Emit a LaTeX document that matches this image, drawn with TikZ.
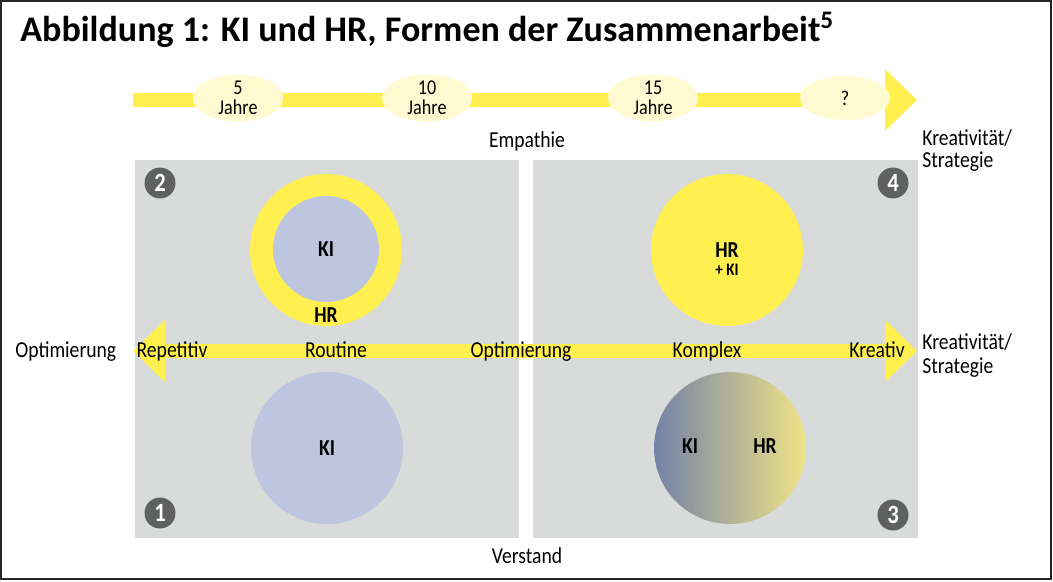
\documentclass[tikz,border=0pt]{standalone}
\usepackage{fontspec}
\setmainfont[FakeStretch=0.86]{Carlito}
\newfontfamily\titlefont{Carlito}
\usetikzlibrary{positioning, arrows.meta, shapes.geometric}

\definecolor{hryellow}{HTML}{FFF050}
\definecolor{kiblue}{HTML}{BEC5DE}
\definecolor{fieldgray}{HTML}{D9DADA}
\definecolor{yearbg}{HTML}{FFFAD2}
\definecolor{badgegray}{HTML}{5F6060}
\definecolor{mixblue}{HTML}{7482A8}
\definecolor{mixyellow}{HTML}{F0E486}

\begin{document}
\begin{tikzpicture}[
    x=0.02cm, y=-0.02cm,
    every node/.style = {font=\fontsize{13}{13}\selectfont, inner sep=0pt},
    year/.style = {ellipse, fill=yearbg, minimum width=1.8cm, minimum height=0.88cm, align=center, font=\fontsize{12}{11.2}\selectfont},
    badge/.style = {circle, fill=badgegray, text=white, minimum size=0.62cm, font=\fontsize{15}{15}\selectfont\bfseries},
    bubble/.style = {circle, minimum size=3.04cm, font=\fontsize{13}{13}\selectfont\bfseries},
    tag/.style = {anchor=base, font=\fontsize{13}{13}\selectfont\bfseries},
    axis/.style = {anchor=base},
    bigarrow/.style = {draw=hryellow, line width=0.28cm, -{Triangle[length=0.64cm, width=1.2cm]}},
    twoarrow/.style = {bigarrow, {Triangle[length=0.64cm, width=1.2cm]}-{Triangle[length=0.64cm, width=1.2cm]}}
]
    \useasboundingbox (0,0) rectangle (1053,581);
    \draw[line width=0.04cm, black!85] (1,1) rectangle (1051,579);

    \node (title) at (20,42) [anchor=base west, font=\fontsize{20.5}{21}\selectfont\titlefont\bfseries]
        {Abbildung 1: KI und HR, Formen der Zusammenarbeit\textsuperscript{5}};

    % time line
    \coordinate (tstart) at (133,100);
    \coordinate (tend) at (917,100);
    \draw[bigarrow] (tstart) -- (tend);
    \node (y5) at (238,98) [year] {5\\Jahre};
    \node (y10) at (427,98) [year] {10\\Jahre};
    \node (y15) at (653,98) [year] {15\\Jahre};
    \node (yq) at (845,98) [year] {?};
    \node (krea1) at (922,167) [anchor=base west, align=left, font=\fontsize{13}{12.5}\selectfont] {Kreativität/\\Strategie};

    % fields
    \fill[fieldgray] (135,160) rectangle (519,538);
    \fill[fieldgray] (533,160) rectangle (918,538);
    \node (empathie) at (527,147) [axis] {Empathie};
    \node (verstand) at (527,563) [axis] {Verstand};

    % middle axis
    \coordinate (mleft) at (133,351);
    \coordinate (mright) at (917,351);
    \draw[twoarrow] (mleft) -- (mright);
    \node (opt) at (15,357) [anchor=base west] {Optimierung};
    \node (rep) at (172,357) [axis] {Repetitiv};
    \node (rout) at (336,357) [axis] {Routine};
    \node (optmid) at (521,357) [axis] {Optimierung};
    \node (kompl) at (707,357) [axis] {Komplex};
    \node (kreativ) at (877,357) [axis] {Kreativ};
    \node (krea2) at (922,373) [anchor=base west, align=left, font=\fontsize{13}{13.5}\selectfont] {Kreativität/\\Strategie};

    % quadrant 2
    \node (ring) at (326,250) [bubble, fill=hryellow] {};
    \node (kiin) at (326,249) [bubble, fill=kiblue, minimum size=2.12cm] {KI};
    \node (hrring) at (326,322) [tag] {HR};

    % quadrant 4
    \node (hrki) at (727,250) [bubble, fill=hryellow] {};
    \node (hr4) at (727,257) [tag] {HR};
    \node (plus4) at (727,275) [tag, font=\fontsize{10}{10}\selectfont\bfseries] {+ KI};

    % quadrant 1
    \node (kionly) at (327,448) [bubble, fill=kiblue] {KI};

    % quadrant 3
    \node (mix) at (730,448) [bubble, left color=mixblue, right color=mixyellow] {};
    \node (ki3) at (690,453) [tag] {KI};
    \node (hr3) at (765,453) [tag] {HR};

    % numbers
    \node (n2) at (160,183) [badge] {2};
    \node (n4) at (893,183) [badge] {4};
    \node (n1) at (160,513) [badge] {1};
    \node (n3) at (893,515) [badge] {3};
\end{tikzpicture}
\end{document}
